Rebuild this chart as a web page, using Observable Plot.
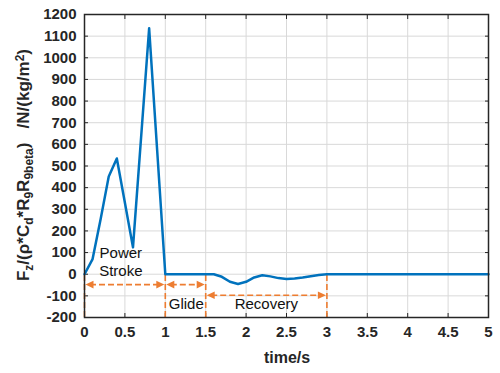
<!DOCTYPE html>
<html><head><meta charset="utf-8">
<script src="https://cdn.jsdelivr.net/npm/d3@7"></script>
<script src="https://cdn.jsdelivr.net/npm/@observablehq/plot@0.6"></script>
<style>body{margin:0;background:#fff}svg{font-family:"Liberation Sans",Arial,sans-serif}</style>
</head><body><div id="chart"></div>
<script>
const time = [0,0.1,0.2,0.3,0.4,0.5,0.6,0.7,0.8,0.9,1.0,1.1,1.2,1.3,1.4,1.5,1.6,1.7,1.8,1.9,2.0,2.1,2.2,2.3,2.4,2.5,2.6,2.7,2.8,2.9,3.0,3.5,4.0,4.5,5.0];
const force = [0,70,255,451,535,330,124,630,1136,568,0,0,0,0,0,0,0,-12,-35,-45,-35,-15,-5,-10,-18,-22,-20,-15,-9,-4,0,0,0,0,0];
const xTicks = [0,0.5,1,1.5,2,2.5,3,3.5,4,4.5,5];
const yTicks = [-200,-100,0,100,200,300,400,500,600,700,800,900,1000,1100,1200];
const phaseBounds = [0,1,1.5,3];
const phaseStart = [0, 1, 1.5];
const phaseEnd = [1, 1.5, 3];
const phaseArrowY = [-48, -48, -97];
const phases = phaseStart.map((s,i)=>({x1:s, x2:phaseEnd[i], y:phaseArrowY[i]}));
const labelText = ["Power","Stroke","Glide","Recovery"];
const labelX = [0.45, 0.45, 1.26, 2.25];
const labelY = [95, 12, -137, -137];
const labels = labelText.map((t,i)=>({text:t, x:labelX[i], y:labelY[i]}));
const data = time.map((t,i)=>({t, f:force[i]}));
const orange = "#ED7D31";
const rightHead = {draw(c){ c.moveTo(-1,0); c.lineTo(-9,-3.8); c.lineTo(-9,3.8); c.closePath(); }};
const leftHead = {draw(c){ c.moveTo(1,0); c.lineTo(9,-3.8); c.lineTo(9,3.8); c.closePath(); }};
const fmt = d => String(d);
const chart = Plot.plot({
  width: 500, height: 373,
  marginLeft: 84, marginRight: 12, marginTop: 14, marginBottom: 56,
  style: {fontSize: "14px", fontWeight: "bold", color: "#262626", background: "#fff"},
  x: {domain:[0,5], ticks: xTicks, tickFormat: fmt},
  y: {domain:[-200,1200], ticks: yTicks, tickFormat: fmt},
  marks: [
    Plot.gridX(xTicks, {stroke:"#d9d9d9", strokeOpacity:1}),
    Plot.gridY(yTicks, {stroke:"#d9d9d9", strokeOpacity:1}),
    Plot.axisX(xTicks, {anchor:"bottom", tickSize:-4, tickPadding:13, tickFormat: fmt, label:null, fontSize:15, fontWeight:"bold", fill:"#262626"}),
    Plot.axisX(xTicks, {anchor:"top", tickSize:-4, tickFormat:()=>"", label:null}),
    Plot.axisY(yTicks, {anchor:"left", tickSize:-4, tickPadding:12, tickFormat: fmt, label:null, fontSize:15, fontWeight:"bold", fill:"#262626"}),
    Plot.axisY(yTicks, {anchor:"right", tickSize:-4, tickFormat:()=>"", label:null}),
    Plot.ruleX(phaseBounds, {x:d=>d, y1:-200, y2:0, stroke:orange, strokeWidth:1.6, strokeDasharray:"6,3"}),
    Plot.ruleY(phases, {y:"y", x1:"x1", x2:"x2", stroke:orange, strokeWidth:1.6, strokeDasharray:"6,3", insetLeft:6, insetRight:6}),
    Plot.dot(phases, {x:"x1", y:"y", symbol:leftHead, fill:orange, stroke:null, r:5}),
    Plot.dot(phases, {x:"x2", y:"y", symbol:rightHead, fill:orange, stroke:null, r:5}),
    Plot.line(data, {x:"t", y:"f", stroke:"#0072BD", strokeWidth:2.5}),
    Plot.text(labels, {x:"x", y:"y", text:"text", fontSize:15, fontWeight:"normal", fill:"#111"}),
    Plot.frame({stroke:"#262626", strokeWidth:1.5})
  ]
});
const svg = d3.select(chart);
svg.append("text").attr("x", 287).attr("y", 363).attr("text-anchor","middle")
  .attr("font-size",16).attr("font-weight","bold").attr("fill","#262626").text("time/s");
const yl = svg.append("text").attr("transform","translate(29,165) rotate(-90)").attr("text-anchor","middle")
  .attr("font-size",17).attr("font-weight","bold").attr("fill","#262626");
const parts = [["F",0],["z",1],["/(ρ*C",0],["d",1],["*R",0],["9",1],["R",0],["9beta",1],[")   /N/(kg/m",0],["2",-1],[")",0]];
parts.forEach(([t,s]) => {
  const ts = yl.append("tspan").text(t);
  if (s===1) ts.attr("baseline-shift","-30%").attr("font-size",12);
  if (s===-1) ts.attr("baseline-shift","45%").attr("font-size",12);
});
document.getElementById("chart").appendChild(chart);
</script></body></html>
